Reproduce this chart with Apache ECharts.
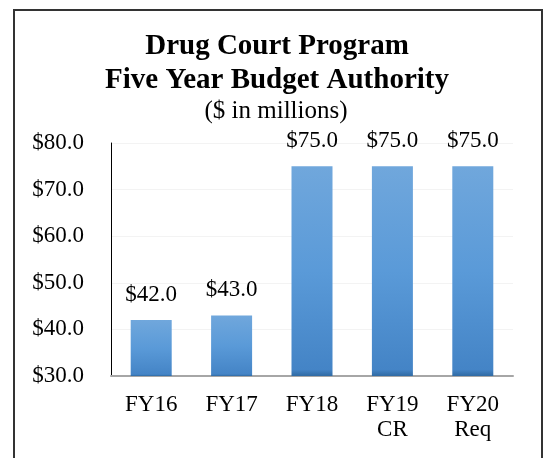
<!DOCTYPE html>
<html>
<head>
<meta charset="utf-8">
<script src="https://cdn.jsdelivr.net/npm/echarts@6/dist/echarts.min.js"></script>
<style>
  html, body { margin: 0; padding: 0; background: #fff; }
  #chart { width: 543px; height: 458px; }
</style>
</head>
<body>
<div id="chart"></div>
<script>
// Fiscal years shown along the bottom axis
const categories = ['FY16', 'FY17', 'FY18', 'FY19\nCR', 'FY20\nReq'];
// Budget authority, $ in millions
const budget = [42.0, 43.0, 75.0, 75.0, 75.0];
// Value-axis range and step
const yMin = 30;
const yMax = 80;
const yStep = 10;

const serif = '"Liberation Serif", "Times New Roman", serif';

const chart = echarts.init(document.getElementById('chart'), null, { renderer: 'canvas' });

chart.setOption({
  animation: false,
  backgroundColor: '#ffffff',
  graphic: [
    {
      type: 'rect',
      shape: { x: 14, y: 10, width: 528, height: 470 },
      style: { fill: 'none', stroke: '#333333', lineWidth: 2 },
      silent: true
    },
    {
      type: 'text',
      x: 277,
      y: 30,
      style: {
        text: 'Drug Court Program\nFive Year Budget Authority',
        font: 'bold 29px ' + serif,
        fill: '#000',
        align: 'center',
        verticalAlign: 'top',
        lineHeight: 34
      }
    },
    {
      type: 'text',
      x: 276,
      y: 99,
      style: {
        text: '($ in millions)',
        font: '25px ' + serif,
        fill: '#000',
        align: 'center',
        verticalAlign: 'top',
        lineHeight: 25
      }
    }
  ],
  grid: { left: 111, right: 30, top: 143, bottom: 82, containLabel: false },
  xAxis: {
    type: 'category',
    data: categories,
    axisLine: { show: true, lineStyle: { color: '#a6a6a6', width: 2 } },
    axisTick: { show: false },
    axisLabel: {
      fontFamily: serif,
      fontSize: 23,
      color: '#000',
      margin: 16,
      lineHeight: 25
    }
  },
  yAxis: {
    type: 'value',
    min: yMin,
    max: yMax,
    interval: yStep,
    axisLine: { show: true, lineStyle: { color: '#000', width: 1 } },
    axisTick: { show: false },
    splitLine: { show: true, lineStyle: { color: '#f3f3f3', width: 1 } },
    axisLabel: {
      fontFamily: serif,
      fontSize: 23,
      color: '#000',
      margin: 27,
      formatter: v => '$' + v.toFixed(1)
    }
  },
  series: [{
    type: 'bar',
    data: budget,
    barWidth: 41,
    itemStyle: {
      color: new echarts.graphic.LinearGradient(0, 0, 0, 1, [
        { offset: 0, color: '#70a7dc' },
        { offset: 0.5, color: '#5a9ad8' },
        { offset: 0.97, color: '#4484c6' },
        { offset: 1, color: '#2f6aa3' }
      ])
    },
    label: {
      show: true,
      position: 'top',
      distance: 14,
      fontFamily: serif,
      fontSize: 23,
      color: '#000',
      formatter: p => '$' + p.value.toFixed(1)
    }
  }]
});
</script>
</body>
</html>
